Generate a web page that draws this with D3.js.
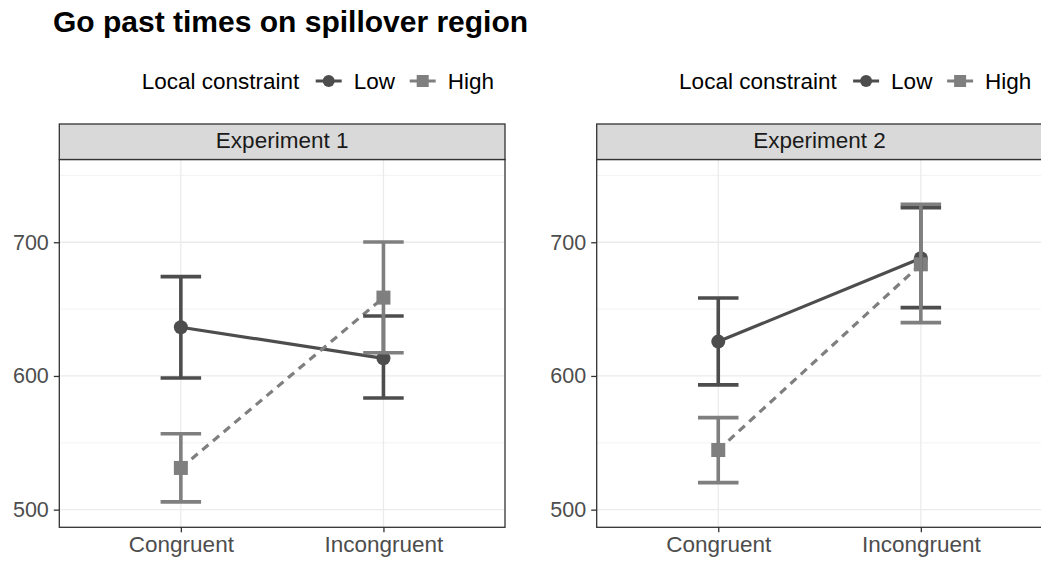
<!DOCTYPE html>
<html>
<head>
<meta charset="utf-8">
<script src="https://cdn.jsdelivr.net/npm/d3@7"></script>
<style>
  html, body { margin: 0; padding: 0; background: #fff; }
  svg { display: block; font-family: "Liberation Sans", Arial, sans-serif; }
</style>
</head>
<body>
<svg id="chart" width="1041" height="561"></svg>
<script>
// ---- data ----
const categories = ["Congruent", "Incongruent"];
const experiments = ["Experiment 1", "Experiment 2"];
const levels = ["Low", "High"];
const yTicks = [500, 600, 700];
const yMinor = [550, 650, 750];

const lowMean1 = [636.4, 613.2];
const lowLower1 = [598.5, 583.5];
const lowUpper1 = [674.3, 644.9];
const highMean1 = [531.2, 658.6];
const highLower1 = [505.8, 617.4];
const highUpper1 = [556.8, 700.2];

const lowMean2 = [625.7, 688.0];
const lowLower2 = [593.3, 651.1];
const lowUpper2 = [658.3, 725.9];
const highMean2 = [544.6, 683.5];
const highLower2 = [520.2, 639.9];
const highUpper2 = [568.8, 728.4];

function buildSeries(mean, lo, hi) {
  return categories.map((c, i) => ({ cat: c, mean: mean[i], lo: lo[i], hi: hi[i] }));
}
const panels = [
  { label: experiments[0], left: 59.3, right: 505,
    series: { Low: buildSeries(lowMean1, lowLower1, lowUpper1), High: buildSeries(highMean1, highLower1, highUpper1) } },
  { label: experiments[1], left: 596.7, right: 1042.4,
    series: { Low: buildSeries(lowMean2, lowLower2, lowUpper2), High: buildSeries(highMean2, highLower2, highUpper2) } }
];

const colors = { Low: "#4d4d4d", High: "#7f7f7f" };
const dashes = { Low: null, High: "8,6" };

const svg = d3.select("#chart");
const panelTop = 159.5, panelBottom = 527.3;

svg.append("text")
  .attr("x", 53).attr("y", 32)
  .attr("font-size", 30).attr("font-weight", "bold").attr("fill", "#000")
  .text("Go past times on spillover region");

const y = d3.scaleLinear().domain([486.8, 761.9]).range([panelBottom, panelTop]);

panels.forEach(p => {
  const g = svg.append("g");
  const x = d3.scalePoint().domain(categories).range([p.left, p.right]).padding(0.6);
  const step = x.step();
  const capHalf = step * 0.1;

  g.append("rect").attr("x", p.left).attr("y", panelTop).attr("width", p.right - p.left).attr("height", panelBottom - panelTop)
    .attr("fill", "#fff");

  g.selectAll(".minor").data(yMinor).join("line")
    .attr("x1", p.left).attr("x2", p.right)
    .attr("y1", d => y(d)).attr("y2", d => y(d))
    .attr("stroke", "#f0f0f0").attr("stroke-width", 0.8);
  g.selectAll(".majorY").data(yTicks).join("line")
    .attr("x1", p.left).attr("x2", p.right)
    .attr("y1", d => y(d)).attr("y2", d => y(d))
    .attr("stroke", "#ebebeb").attr("stroke-width", 1.3);
  g.selectAll(".majorX").data(categories).join("line")
    .attr("x1", d => x(d)).attr("x2", d => x(d))
    .attr("y1", panelTop).attr("y2", panelBottom)
    .attr("stroke", "#ebebeb").attr("stroke-width", 1.3);

  const line = d3.line().x(d => x(d.cat)).y(d => y(d.mean));
  levels.forEach(lv => {
    g.append("path").datum(p.series[lv])
      .attr("d", line).attr("fill", "none")
      .attr("stroke", colors[lv]).attr("stroke-width", 3.2)
      .attr("stroke-dasharray", dashes[lv]);
  });

  g.selectAll(".ptLow").data(p.series.Low).join("circle")
    .attr("cx", d => x(d.cat)).attr("cy", d => y(d.mean)).attr("r", 7)
    .attr("fill", colors.Low);
  g.selectAll(".ptHigh").data(p.series.High).join("rect")
    .attr("x", d => x(d.cat) - 7).attr("y", d => y(d.mean) - 7)
    .attr("width", 14).attr("height", 14)
    .attr("fill", colors.High);

  levels.forEach(lv => {
    const eb = g.append("g").attr("stroke", colors[lv]).attr("stroke-width", 3.6).attr("fill", "none");
    p.series[lv].forEach(d => {
      const cx = x(d.cat);
      eb.append("line").attr("x1", cx).attr("x2", cx).attr("y1", y(d.lo)).attr("y2", y(d.hi));
      eb.append("line").attr("x1", cx - capHalf).attr("x2", cx + capHalf).attr("y1", y(d.lo)).attr("y2", y(d.lo));
      eb.append("line").attr("x1", cx - capHalf).attr("x2", cx + capHalf).attr("y1", y(d.hi)).attr("y2", y(d.hi));
    });
  });

  g.append("rect").attr("x", p.left).attr("y", panelTop).attr("width", p.right - p.left).attr("height", panelBottom - panelTop)
    .attr("fill", "none").attr("stroke", "#333").attr("stroke-width", 1.3);

  g.append("rect").attr("x", p.left).attr("y", 124).attr("width", p.right - p.left).attr("height", panelTop - 124)
    .attr("fill", "#d9d9d9").attr("stroke", "#333").attr("stroke-width", 1.3);
  g.append("text").attr("x", (p.left + p.right) / 2).attr("y", 148)
    .attr("text-anchor", "middle").attr("font-size", 22.5).attr("fill", "#1a1a1a")
    .text(p.label);

  const yAxis = d3.axisLeft(y).tickValues(yTicks).tickSize(5.5).tickPadding(5);
  const ya = g.append("g").attr("transform", `translate(${p.left},0)`).call(yAxis);
  ya.select(".domain").remove();
  ya.selectAll(".tick line").attr("stroke", "#333").attr("stroke-width", 1.3);
  ya.selectAll(".tick text").attr("font-size", 21.5).attr("fill", "#4d4d4d")
    .attr("font-family", "Liberation Sans, Arial, sans-serif");

  const xAxis = d3.axisBottom(x).tickSize(5).tickPadding(4);
  const xa = g.append("g").attr("transform", `translate(0,${panelBottom})`).call(xAxis);
  xa.select(".domain").remove();
  xa.selectAll(".tick line").attr("stroke", "#333").attr("stroke-width", 1.3);
  xa.selectAll(".tick text").attr("font-size", 22.5).attr("fill", "#4d4d4d")
    .attr("font-family", "Liberation Sans, Arial, sans-serif");

  const lg = g.append("g").attr("transform", `translate(${p.left + 82.4},0)`);
  lg.append("text").attr("x", 0).attr("y", 89).attr("font-size", 22.5).attr("fill", "#000").text("Local constraint");
  const keyPos = { Low: 174, High: 268 };
  levels.forEach(lv => {
    const kx = keyPos[lv];
    lg.append("line").attr("x1", kx).attr("x2", kx + 26).attr("y1", 81).attr("y2", 81)
      .attr("stroke", colors[lv]).attr("stroke-width", 3);
    if (lv === "Low") {
      lg.append("circle").attr("cx", kx + 13).attr("cy", 81).attr("r", 6).attr("fill", colors[lv]);
    } else {
      lg.append("rect").attr("x", kx + 7).attr("y", 75).attr("width", 12).attr("height", 12).attr("fill", colors[lv]);
    }
    lg.append("text").attr("x", kx + 38).attr("y", 89).attr("font-size", 22.5).attr("fill", "#000").text(lv);
  });
});
</script>
</body>
</html>
